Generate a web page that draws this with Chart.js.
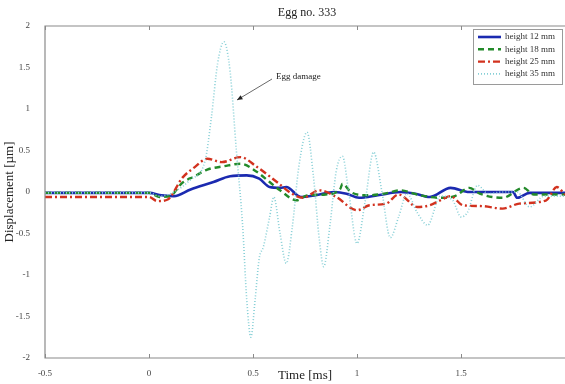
<!DOCTYPE html>
<html>
<head>
<meta charset="utf-8">
<script src="https://cdn.jsdelivr.net/npm/chart.js@4.4.1/dist/chart.umd.min.js"></script>
<style>
  html, body { margin: 0; padding: 0; background: #fff; }
  #wrap { width: 565px; height: 384px; }
</style>
</head>
<body>
<div id="wrap"><canvas id="grafica" width="565" height="384"></canvas></div>
<script>
// values (time in ms, displacement in µm)
const chartTitle = 'Egg no. 333';
const labels = ['height 12 mm', 'height 18 mm', 'height 25 mm', 'height 35 mm'];

const time12 = [-0.5, -0.05, 0.0, 0.06, 0.12, 0.2, 0.31, 0.39, 0.47, 0.53, 0.58, 0.63, 0.66, 0.73, 0.8, 0.89, 0.95, 1.01, 1.1, 1.21, 1.28, 1.35, 1.45, 1.54, 1.65, 1.75, 1.77, 1.83, 2.0];
const disp12 = [-0.01, -0.01, -0.01, -0.04, -0.05, 0.03, 0.12, 0.19, 0.2, 0.16, 0.06, 0.05, 0.06, -0.06, -0.04, 0.0, -0.02, -0.07, -0.04, 0.0, -0.02, -0.06, 0.05, 0.0, 0.0, 0.0, -0.07, -0.01, -0.01];

const time18 = [-0.5, 0.0, 0.05, 0.1, 0.16, 0.22, 0.28, 0.36, 0.44, 0.52, 0.58, 0.63, 0.71, 0.76, 0.85, 0.92, 0.93, 0.97, 1.05, 1.13, 1.21, 1.29, 1.35, 1.40, 1.47, 1.54, 1.59, 1.70, 1.80, 1.85, 1.94, 2.0];
const disp18 = [-0.01, -0.01, -0.06, -0.05, 0.11, 0.19, 0.27, 0.31, 0.34, 0.24, 0.12, 0.02, -0.1, -0.04, -0.03, 0.04, 0.1, 0.0, -0.04, -0.02, 0.02, -0.03, -0.06, -0.07, -0.05, 0.05, -0.02, -0.07, 0.05, -0.03, -0.03, -0.03];

const time25 = [-0.5, 0.0, 0.04, 0.09, 0.16, 0.22, 0.28, 0.35, 0.44, 0.52, 0.62, 0.68, 0.74, 0.82, 0.90, 1.0, 1.06, 1.14, 1.2, 1.29, 1.35, 1.40, 1.45, 1.51, 1.6, 1.70, 1.78, 1.91, 1.96, 2.0];
const disp25 = [-0.06, -0.06, -0.11, -0.09, 0.17, 0.3, 0.4, 0.36, 0.42, 0.30, 0.11, -0.01, -0.07, 0.02, -0.06, -0.22, -0.16, -0.14, -0.03, -0.18, -0.16, -0.1, -0.05, -0.16, -0.17, -0.2, -0.14, -0.1, 0.06, -0.03];

const time35 = [-0.5, 0.0, 0.05, 0.12, 0.2, 0.27, 0.3, 0.33, 0.36, 0.39, 0.42, 0.45, 0.47, 0.49, 0.51, 0.53, 0.55, 0.58, 0.60, 0.63, 0.66, 0.69, 0.72, 0.76, 0.79, 0.82, 0.84, 0.87, 0.90, 0.93, 0.96, 1.0, 1.04, 1.08, 1.12, 1.16, 1.2, 1.24, 1.29, 1.34, 1.40, 1.46, 1.5, 1.53, 1.58, 1.63, 1.7, 1.77, 1.83, 1.9, 2.0];
const disp35 = [-0.01, -0.01, -0.05, 0.0, 0.15, 0.38, 0.9, 1.55, 1.81, 1.45, 0.5, -0.4, -1.3, -1.75, -1.3, -0.8, -0.66, -0.3, -0.06, -0.5, -0.86, -0.4, 0.3, 0.72, 0.2, -0.6, -0.9, -0.4, 0.25, 0.43, 0.0, -0.62, -0.1, 0.48, 0.0, -0.55, -0.3, -0.02, -0.25, -0.4, -0.05, -0.1, -0.3, -0.25, 0.08, -0.02, 0.0, 0.0, -0.18, -0.05, -0.05];

const xTicks = [-0.5, 0, 0.5, 1, 1.5];
const yTicks = [-2, -1.5, -1, -0.5, 0, 0.5, 1, 1.5, 2];

const serif = '"Liberation Serif", "DejaVu Serif", serif';

function puntos(xs, ys) {
  return xs.map((x, i) => ({x: x, y: ys[i]}));
}

const estilos = [
  {color: '#1b2ab0', dash: [], width: 2.6},
  {color: '#238a2a', dash: [6, 4], width: 2.4},
  {color: '#d2321f', dash: [7, 3, 2, 3], width: 2.4},
  {color: '#86cfd6', dash: [1, 2], width: 1.6}
];

const series = [puntos(time12, disp12), puntos(time18, disp18), puntos(time25, disp25), puntos(time35, disp35)];

// ticks, box, title, legend and note drawn on top
const extras = {
  id: 'extras',
  afterDatasetsDraw(chart) {
    const c = chart.ctx;
    const a = chart.chartArea;
    const sx = chart.scales.x, sy = chart.scales.y;
    c.save();
    c.strokeStyle = '#8a8a8a';
    c.lineWidth = 1.2;
    c.beginPath();
    c.moveTo(a.right + 2, a.top); c.lineTo(a.left, a.top); c.lineTo(a.left, a.bottom); c.lineTo(a.right + 2, a.bottom);
    c.stroke();
    c.lineWidth = 1;
    xTicks.forEach(t => {
      const px = Math.round(sx.getPixelForValue(t)) + 0.5;
      c.beginPath();
      c.moveTo(px, a.bottom); c.lineTo(px, a.bottom - 4);
      c.moveTo(px, a.top); c.lineTo(px, a.top + 4);
      c.stroke();
    });

    // title
    c.fillStyle = '#222';
    c.font = '12px ' + serif;
    c.textAlign = 'center';
    c.textBaseline = 'middle';
    c.fillText(chartTitle, 307, 13);

    // legend
    const lx = 473, ly = 29, lw = 89, lh = 55;
    c.fillStyle = '#fff';
    c.fillRect(lx, ly, lw, lh);
    c.strokeStyle = '#9a9a9a';
    c.lineWidth = 1;
    c.strokeRect(lx + 0.5, ly + 0.5, lw, lh);
    c.font = '9px ' + serif;
    c.textAlign = 'left';
    labels.forEach((lab, i) => {
      const yy = ly + 8 + i * 12.3;
      const e = estilos[i];
      c.strokeStyle = e.color;
      c.lineWidth = e.width;
      c.setLineDash(e.dash);
      c.beginPath();
      c.moveTo(lx + 5, yy); c.lineTo(lx + 28, yy);
      c.stroke();
      c.setLineDash([]);
      c.fillStyle = '#333';
      c.fillText(lab, lx + 32, yy);
    });

    // note with arrow
    c.font = '9px ' + serif;
    c.fillStyle = '#222';
    c.fillText('Egg damage', 276, 77);
    const x0 = 272, y0 = 79, x1 = 237, y1 = 100;
    c.strokeStyle = '#444';
    c.lineWidth = 0.8;
    c.beginPath();
    c.moveTo(x0, y0); c.lineTo(x1, y1);
    c.stroke();
    const ang = Math.atan2(y1 - y0, x1 - x0);
    c.fillStyle = '#222';
    c.beginPath();
    c.moveTo(x1, y1);
    c.lineTo(x1 - 6 * Math.cos(ang - 0.4), y1 - 6 * Math.sin(ang - 0.4));
    c.lineTo(x1 - 6 * Math.cos(ang + 0.4), y1 - 6 * Math.sin(ang + 0.4));
    c.closePath();
    c.fill();
    c.restore();
  }
};

const ctx = document.getElementById('grafica').getContext('2d');
const grafica = new Chart(ctx, {
  type: 'line',
  data: {
    datasets: series.map((d, i) => ({
      label: labels[i],
      data: d,
      borderColor: estilos[i].color,
      borderDash: estilos[i].dash,
      borderWidth: estilos[i].width,
      pointRadius: 0,
      fill: false,
      cubicInterpolationMode: 'monotone'
    })).reverse()
  },
  options: {
    responsive: false,
    animation: false,
    layout: {padding: {top: 26, right: 0, left: 0, bottom: 0}},
    plugins: {legend: {display: false}, tooltip: {enabled: false}},
    scales: {
      x: {
        type: 'linear',
        min: -0.5,
        max: 2,
        afterFit: s => { s.height = 26; },
        afterBuildTicks: s => { s.ticks = xTicks.map(v => ({value: v})); },
        grid: {display: false},
        border: {display: false},
        ticks: {color: '#444', font: {family: serif, size: 9}, padding: 2, maxRotation: 0, callback: v => String(v)},
        title: {display: true, text: 'Time [ms]', color: '#222', font: {family: serif, size: 13}, padding: {top: 0, bottom: 1}}
      },
      y: {
        min: -2,
        max: 2,
        afterFit: s => { s.width = 45; },
        afterBuildTicks: s => { s.ticks = yTicks.map(v => ({value: v})); },
        grid: {display: false},
        border: {display: false},
        ticks: {color: '#444', font: {family: serif, size: 9}, padding: 7, callback: v => String(v)},
        title: {display: true, text: 'Displacement [µm]', color: '#222', font: {family: serif, size: 13}, padding: {top: 2, bottom: 0}}
      }
    }
  },
  plugins: [extras]
});
</script>
</body>
</html>
